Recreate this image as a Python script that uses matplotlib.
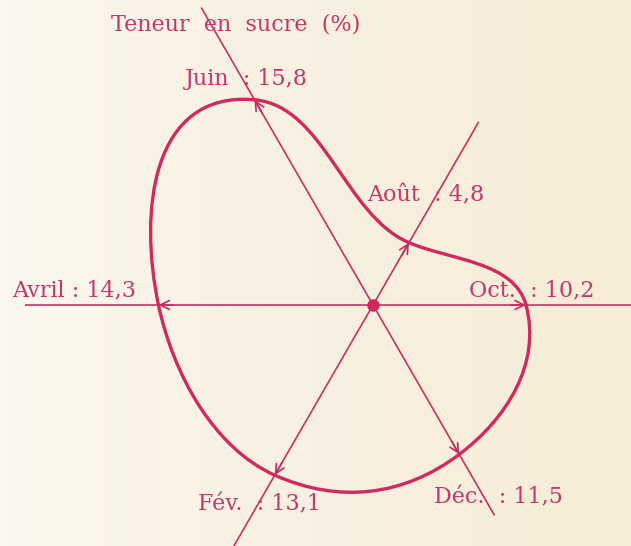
import numpy as np
import matplotlib
matplotlib.use("Agg")
import matplotlib.pyplot as plt
from matplotlib.path import Path
from matplotlib.patches import PathPatch

# Sugar content per month (values printed on the chart)
months = ["Oct.", "Août", "Juin", "Avril", "Fév.", "Déc."]
sugar = [10.2, 4.8, 15.8, 14.3, 13.1, 11.5]
value_labels = ["10,2", "4,8", "15,8", "14,3", "13,1", "11,5"]
title = "Teneur  en  sucre  (%)"

# ── style ─────────────────────────────────────────────────────────────────
CURVE = "#d02a5c"
AXIS = "#c92a5c"
TEXT = "#c2386a"
FONT = "DejaVu Serif"
FS = 16
PX = 15.0  # pixels per unit on the figure

# direction of each month axis (degrees, counter-clockwise from east)
ANGLES = np.deg2rad([0, 60, 120, 180, 240, 300])
# hand-drawn curve: tangent direction (deg) and handle lengths (px, in/out)
TANGENT = np.deg2rad([105, 157, 175, 282, 336, 37])
HANDLE_IN = [60, 45, 70, 95, 66, 70]
HANDLE_OUT = [45, 70, 104, 72, 70, 60]
# label offsets in pixels (dx, dy) from the data point, gap before colon
LABEL_OFF = [(6, 15), (17, 47), (-8, 21), (-84, 15), (-15, -29), (39, -43)]
GAP = ["  ", "  ", "  ", " ", "  ", "  "]
# axis line extents (units): (positive direction, negative direction)
AXIS_EXT = [(17.5, 23.2), (14.1, 20.5), (22.9, 16.2)]

fig = plt.figure(figsize=(6.31, 5.46), dpi=100)
ax = fig.add_axes([0, 0, 1, 1])
xlim = (-373 / PX, (631 - 373) / PX)
ylim = (-(546 - 305) / PX, 305 / PX)
ax.set_xlim(*xlim)
ax.set_ylim(*ylim)
ax.axis("off")

# paper background: lighter on the left, creamier on the right
paper = np.linspace(0, 1, 64)[None, :]
ax.imshow(paper, extent=(*xlim, *ylim), aspect="auto", zorder=0,
          cmap=matplotlib.colors.LinearSegmentedColormap.from_list(
              "paper", ["#fbf7ee", "#f8f0e0", "#f6ecd7"]))

# ── month axes ────────────────────────────────────────────────────────────
for ang, (pos, neg) in zip(ANGLES[:3], AXIS_EXT):
    ux, uy = np.cos(ang), np.sin(ang)
    ax.plot([-neg * ux, pos * ux], [-neg * uy, pos * uy],
            color=AXIS, lw=1.15, solid_capstyle="butt", zorder=2)

ax.plot(0, 0, "o", ms=8, color=CURVE, zorder=5)

# ── data points ───────────────────────────────────────────────────────────
r = np.array(sugar)
px = r * np.cos(ANGLES)
py = r * np.sin(ANGLES)

# closed smooth curve through the points as cubic Bezier segments
n = len(px)
tx, ty = np.cos(TANGENT), np.sin(TANGENT)
verts = [(px[0], py[0])]
codes = [Path.MOVETO]
for i in range(n):
    j = (i + 1) % n
    c1 = (px[i] + tx[i] * HANDLE_OUT[i] / PX, py[i] + ty[i] * HANDLE_OUT[i] / PX)
    c2 = (px[j] - tx[j] * HANDLE_IN[j] / PX, py[j] - ty[j] * HANDLE_IN[j] / PX)
    verts += [c1, c2, (px[j], py[j])]
    codes += [Path.CURVE4] * 3
ax.add_patch(PathPatch(Path(verts, codes), facecolor="none", edgecolor=CURVE,
                       lw=2.4, zorder=4, capstyle="round", joinstyle="round"))

# arrowheads pointing outward at each data point
for x, y, ang in zip(px, py, ANGLES):
    back = 1.0
    ax.annotate("", xy=(x, y), xytext=(x - back * np.cos(ang), y - back * np.sin(ang)),
                arrowprops=dict(arrowstyle="->,head_length=0.65,head_width=0.32",
                                color=AXIS, lw=1.2, shrinkA=0, shrinkB=0),
                zorder=6)

# labels
for x, y, m, v, off, gap in zip(px, py, months, value_labels, LABEL_OFF, GAP):
    ax.annotate(f"{m}{gap}: {v}", xy=(x, y), xytext=off, textcoords="offset pixels",
                ha="center", va="center", fontsize=FS, family=FONT, color=TEXT)

ax.text(111, 521, title, transform=None, fontsize=FS, family=FONT, color=TEXT,
        ha="left", va="center")

fig.savefig("out.png", dpi=100)
